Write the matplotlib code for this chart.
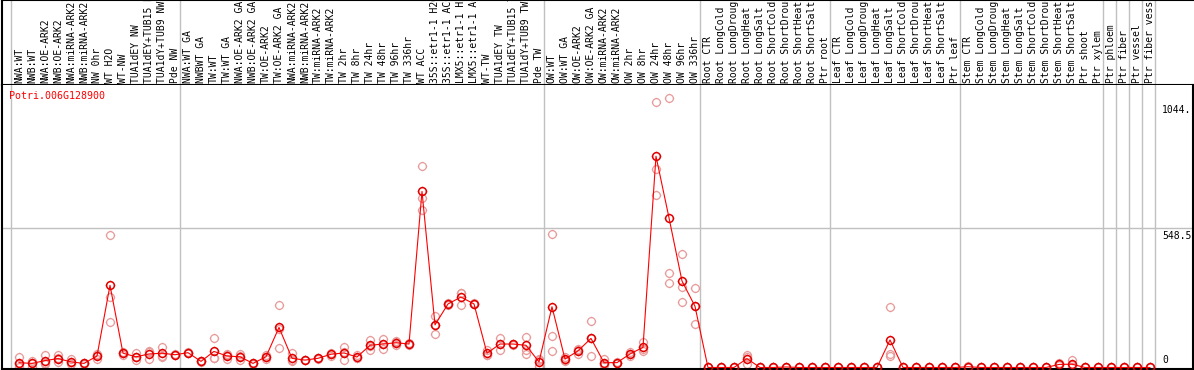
import matplotlib
matplotlib.use('Agg')
import matplotlib.pyplot as plt
import numpy as np
from matplotlib.path import Path

# sample names (column headers)
labels = ['NWA:WT', 'NWB:WT', 'NWA:OE-ARK2', 'NWB:OE-ARK2', 'NWA:miRNA-ARK2', 'NWB:miRNA-ARK2',
          'NW 0hr', 'WT H2O', 'WT-NW', 'TUA1dEY NW', 'TUA1dEY+TUB15 NW', 'TUA1dY+TUB9 NW', 'Pde NW',
          'NWA:WT GA', 'NWBWT GA', 'TW:WT', 'TW:WT GA', 'NWA:OE-ARK2 GA', 'NWB:OE-ARK2 GA',
          'TW:OE-ARK2', 'TW:OE-ARK2 GA', 'NWA:miRNA-ARK2', 'NWB:miRNA-ARK2', 'TW:miRNA-ARK2',
          'TW:miRNA-ARK2', 'TW 2hr', 'TW 8hr', 'TW 24hr', 'TW 48hr', 'TW 96hr', 'TW 336hr', 'WT ACC',
          '35S::etr1-1 H2O', '35S::etr1-1 ACC', 'LMX5::etr1-1 H2O', 'LMX5::etr1-1 ACC', 'WT-TW',
          'TUA1dEY TW', 'TUA1dEY+TUB15 TW', 'TUA1dY+TUB9 TW', 'Pde TW',
          'OW:WT', 'OW:WT GA', 'OW:OE-ARK2', 'OW:OE-ARK2 GA', 'OW:miRNA-ARK2', 'OW:miRNA-ARK2',
          'OW 2hr', 'OW 8hr', 'OW 24hr', 'OW 48hr', 'OW 96hr', 'OW 336hr',
          'Root CTR', 'Root LongCold', 'Root LongDrought', 'Root LongHeat', 'Root LongSalt',
          'Root ShortCold', 'Root ShortDrought', 'Root ShortHeat', 'Root ShortSalt', 'Ptr root',
          'Leaf CTR', 'Leaf LongCold', 'Leaf LongDrought', 'Leaf LongHeat', 'Leaf LongSalt',
          'Leaf ShortCold', 'Leaf ShortDrought', 'Leaf ShortHeat', 'Leaf ShortSalt', 'Ptr leaf',
          'Stem CTR', 'Stem LongCold', 'Stem LongDrought', 'Stem LongHeat', 'Stem LongSalt',
          'Stem ShortCold', 'Stem ShortDrought', 'Stem ShortHeat', 'Stem ShortSalt', 'Ptr shoot',
          'Ptr xylem', 'Ptr phloem', 'Ptr fiber', 'Ptr vessel', 'Ptr fiber vessel']

# mean expression per sample
means = [19, 16, 27, 35, 22, 16, 45, 322, 56, 42, 53, 56, 50,
         58, 24, 63, 45, 42, 16, 42, 157, 36, 29, 36, 52, 57, 41, 87, 92, 97, 92, 690,
         167, 249, 276, 249, 56, 92, 92, 87, 22,
         238, 33, 65, 114, 19, 19, 53, 79, 828, 587, 339, 240,
         0, 0, 0, 35, 0, 0, 2, 0, 0, 0,
         0, 0, 0, 0, 108, 0, 0, 0, 0, 0,
         3, 0, 0, 0, 0, 0, 0, 12, 13, 0, 0,
         0, 0, 0, 0]

# replicate values per sample
reps = [[40, 14, 3], [27, 3, 18], [50, 14, 17], [48, 20, 37], [32, 14, 20], [16, 14, 18],
        [50, 32, 53], [518, 275, 178], [62, 56, 50], [58, 29, 40], [66, 32, 60], [82, 45, 40],
        [50, 52, 48],
        [60, 56, 58], [24, 22, 26], [116, 37, 36], [53, 32, 50], [53, 29, 44], [14, 18, 16],
        [50, 35, 41], [244, 76, 150], [56, 29, 24], [29, 30, 28], [36, 34, 38], [58, 45, 53],
        [82, 29, 60], [50, 36, 38], [108, 69, 84], [113, 71, 92], [105, 87, 99], [87, 95, 94],
        [790, 664, 617], [202, 131, 168], [249, 245, 253], [293, 245, 290], [249, 247, 251],
        [69, 50, 49], [116, 69, 91], [92, 90, 94], [121, 69, 53], [32, 6, 28],
        [523, 123, 65], [42, 30, 27], [53, 70, 72], [182, 45, 115], [35, 14, 8], [19, 18, 20],
        [61, 52, 46], [100, 63, 74], [1039, 777, 675], [1055, 369, 330], [444, 314, 257],
        [310, 170, 240],
        [0, 0, 0], [0, 0, 0], [0, 0, 0], [50, 14, 41], [0, 0, 0], [0, 0, 0], [2, 1, 3],
        [0, 0, 0], [0, 0, 0], [0, 0, 0],
        [0, 0, 0], [0, 0, 0], [0, 0, 0], [0, 0, 0], [236, 53, 45], [0, 0, 0], [0, 0, 0],
        [0, 0, 0], [0, 0, 0], [0, 0, 0],
        [3, 2, 4], [0, 0, 0], [0, 0, 0], [0, 0, 0], [0, 0, 0], [0, 0, 0], [0, 0, 0],
        [17, 10, 9], [29, 8, 2], [0, 0, 0], [0, 0, 0],
        [0, 0, 0], [0, 0, 0], [0, 0, 0], [0, 0, 0]]

group_starts = [0, 13, 41, 53, 63, 73, 84, 85, 86, 87, 88]
gene = 'Potri.006G128900'
ytick_vals = [1044, 548.5, 0]
ytick_text = ['1044.', '548.5', '0']

# circle marker (polygon) with tiny ticks sticking out
t = np.linspace(0, 2 * np.pi, 41)
verts = list(zip(np.cos(t), np.sin(t)))
codes = [Path.MOVETO] + [Path.LINETO] * 40
for a, b in [((0, 1), (0, 1.22)), ((0, -1), (0, -1.22)), ((1, 0), (1.22, 0)), ((-1, 0), (-1.22, 0))]:
    verts += [a, b]
    codes += [Path.MOVETO, Path.LINETO]
ring = Path(verts, codes)

W, H = 1194, 370
fig = plt.figure(figsize=(W / 100, H / 100), dpi=100)
xl = (-1.3077, 90.31)
mono = 'DejaVu Sans Mono'

# header with rotated sample names
hx = fig.add_axes([2 / W, 1 - 85 / H, 1191 / W, 85 / H])
hx.set_xlim(*xl)
hx.set_ylim(0, 1)
hx.set_xticks([])
hx.set_yticks([])
for s in ['left', 'top', 'bottom']:
    hx.spines[s].set_linewidth(1.5)
    hx.spines[s].set_color('black')
hx.spines['right'].set_visible(False)
for i, lab in enumerate(labels):
    hx.text(i, 0.025, lab, rotation=90, ha='center', va='bottom', fontsize=7,
            family=mono, clip_on=True)
for g in group_starts:
    hx.axvline(g - 0.62, color='#c0c0c0', lw=1)

# main plot
ax = fig.add_axes([2 / W, 1 / H, 1191 / W, 284 / H])
ax.set_xlim(*xl)
ax.set_ylim(-5.9, 1107)
ax.set_xticks([])
ax.set_yticks([])
ax.spines['top'].set_visible(False)
for s in ['left', 'bottom', 'right']:
    ax.spines[s].set_linewidth(1.5)
    ax.spines[s].set_color('black')
for g in group_starts:
    ax.axvline(g - 0.62, color='#c0c0c0', lw=1, zorder=0)
ax.axhline(548.5, color='#c0c0c0', lw=1, zorder=0)

x = list(range(len(means)))
for i, r in enumerate(reps):
    ax.plot([i] * len(r), r, ls='none', marker=ring, ms=6.8, mfc='none',
            mec='#e89a9a', mew=0.9, zorder=2, clip_on=False)
ax.plot(x, means, color='#ff0000', lw=0.8, zorder=3)
ax.plot(x, means, ls='none', marker=ring, ms=6.8, mfc='none', mec='#e00000',
        mew=1.1, zorder=4, clip_on=False)

ax.text(-0.78, 1062, gene, color='#ff0000', fontsize=7.2, family=mono, va='center', ha='left')
for v, tx in zip(ytick_vals, ytick_text):
    if v == 0:
        ax.annotate(tx, (87.95, v), xytext=(0, 2), textcoords='offset points',
                    fontsize=7, family=mono, ha='left', va='bottom')
    else:
        ax.annotate(tx, (87.95, v), xytext=(0, -2.5), textcoords='offset points',
                    fontsize=7, family=mono, ha='left', va='top')

fig.savefig('out.png', dpi=100)
